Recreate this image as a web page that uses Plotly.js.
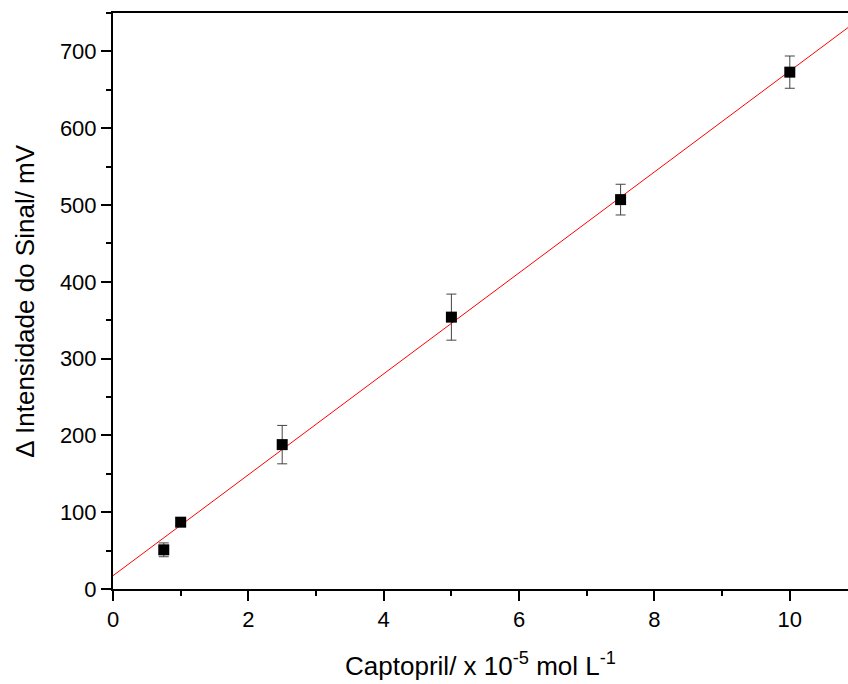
<!DOCTYPE html>
<html>
<head>
<meta charset="utf-8">
<script src="https://cdn.plot.ly/plotly-3.0.1.min.js"></script>
<style>html,body{margin:0;padding:0;background:#fff;}#chart{width:848px;height:684px;}</style>
</head>
<body>
<div id="chart"></div>
<script>
// Data
const concentration = [0.75, 1.0, 2.5, 5.0, 7.5, 10.0];
const signal = [51, 87, 188, 354, 507, 673];
const signalError = [9, 5, 25, 30, 20, 21];
// Linear fit line endpoints (x = 0 to right edge of plot)
const fitX = [0, 10.86];
const fitY = [17.3, 731];

const fontFam = 'Liberation Sans, Arial, sans-serif';

const traces = [
  {
    x: fitX, y: fitY, type: 'scatter', mode: 'lines',
    line: {color: '#ff0000', width: 1}, hoverinfo: 'skip', showlegend: false
  },
  {
    x: concentration, y: signal, type: 'scatter', mode: 'markers',
    marker: {symbol: 'square', size: 11, color: '#000000'},
    error_y: {type: 'data', array: signalError, visible: true, color: '#444444', thickness: 1, width: 5},
    showlegend: false
  }
];

const layout = {
  width: 848, height: 684,
  margin: {l: 113, r: 0, t: 13, b: 95},
  paper_bgcolor: '#ffffff', plot_bgcolor: '#ffffff',
  font: {family: fontFam, color: '#000', size: 22},
  showlegend: false,
  xaxis: {
    range: [0, 10.86], dtick: 2, tick0: 0,
    showgrid: false, zeroline: false,
    showline: true, linecolor: '#000', linewidth: 2, mirror: true,
    ticks: 'outside', ticklen: 10, tickwidth: 2, tickcolor: '#000',
    minor: {dtick: 1, ticks: 'outside', ticklen: 5, tickwidth: 2, tickcolor: '#000', showgrid: false},
    tickfont: {size: 22, family: fontFam, color: '#000'},
    title: {text: 'Captopril/ x 10<sup>-5</sup> mol L<sup>-1</sup>', font: {size: 26, family: fontFam, color: '#000'}, standoff: 25}
  },
  yaxis: {
    range: [0, 750], dtick: 100, tick0: 0,
    showgrid: false, zeroline: false,
    showline: true, linecolor: '#000', linewidth: 2, mirror: false,
    ticks: 'outside', ticklen: 10, tickwidth: 2, tickcolor: '#000',
    minor: {dtick: 50, ticks: 'outside', ticklen: 5, tickwidth: 2, tickcolor: '#000', showgrid: false},
    tickfont: {size: 22, family: fontFam, color: '#000'},
    title: {text: '\u2206 Intensidade do Sinal/ mV', font: {size: 26, family: fontFam, color: '#000'}, standoff: 18}
  }
};

Plotly.newPlot('chart', traces, layout, {displayModeBar: false, staticPlot: true});
</script>
</body>
</html>
